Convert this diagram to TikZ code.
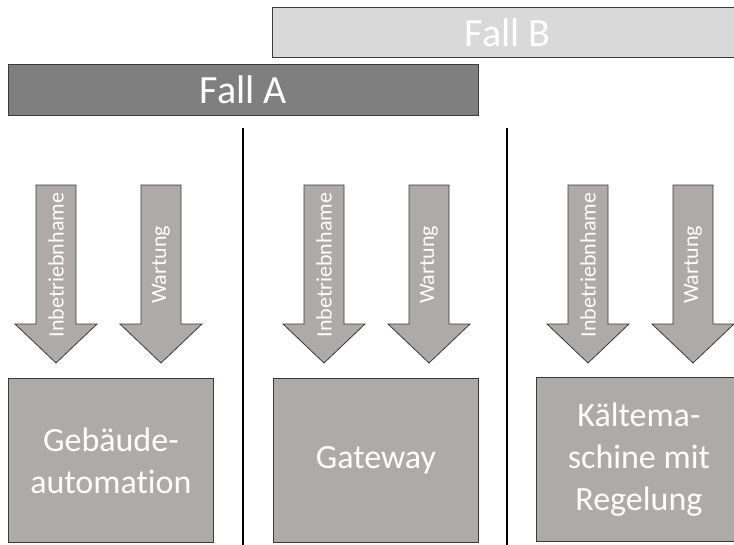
\documentclass[tikz,border=0pt]{standalone}
\usepackage{fontspec}
\setmainfont{Carlito}[RawFeature={-liga;-clig}]
\definecolor{boxgray}{HTML}{AEAAAA}
\definecolor{fallAgray}{HTML}{7F7F7F}
\definecolor{fallBgray}{HTML}{D9D9D9}
\definecolor{edgegray}{HTML}{3A3A3A}
\newcommand\DArrow[3]{%
  \draw[arrowshape] ({#1-20},185) -- ({#1+20},185) -- ({#1+20},324) -- ({#1+41},324)
    -- (#1,363) -- ({#1-41},324) -- ({#1-20},324) -- cycle;
  \node[arrowtext] (#2) at (#1,265) {#3};}
\begin{document}
\begin{tikzpicture}[x=1pt,y=-1pt,
  fallbar/.style={draw=edgegray,line width=1pt,anchor=north west,inner sep=0pt,
    text=white,font=\fontsize{40}{44}\selectfont,minimum height=50pt},
  arrowshape/.style={draw=edgegray,line width=0.8pt,fill=boxgray},
  arrowtext/.style={rotate=90,text=white,inner sep=0pt,font=\fontsize{22}{24}\selectfont},
  unitbox/.style={draw=edgegray,line width=0.8pt,fill=boxgray,anchor=north west,
    minimum width=205pt,minimum height=164pt,inner sep=0pt,align=center,
    text=white,font=\fontsize{34}{42}\selectfont},
  divider/.style={line width=2.6pt,black}]
\useasboundingbox (0,0) rectangle (734,544);
\clip (0,0) rectangle (734,544);
% case bars
\node[fallbar,fill=fallBgray,minimum width=470pt] (fallB) at (272,7) {Fall B};
\node[fallbar,fill=fallAgray,minimum width=470pt,minimum height=51pt] (fallA) at (8,64) {Fall A};
% dividers
\coordinate (d1t) at (243,128); \coordinate (d1b) at (243,546);
\coordinate (d2t) at (507,128); \coordinate (d2b) at (507,546);
\draw[divider] (d1t) -- (d1b);
\draw[divider] (d2t) -- (d2b);
% arrows
\DArrow{56}{a1}{Inbetriebnhame}
\DArrow{161}{w1}{Wartung}
\DArrow{324}{a2}{Inbetriebnhame}
\DArrow{429}{w2}{Wartung}
\DArrow{588}{a3}{Inbetriebnhame}
\DArrow{693}{w3}{Wartung}
% boxes
\node[unitbox] (ga) at (8,378) {Gebäude-\\automation};
\node[unitbox] (gw) at (273,378) {Gateway};
\node[unitbox] (km) at (536,377) {Kältema-\\schine mit\\Regelung};
\end{tikzpicture}
\end{document}
